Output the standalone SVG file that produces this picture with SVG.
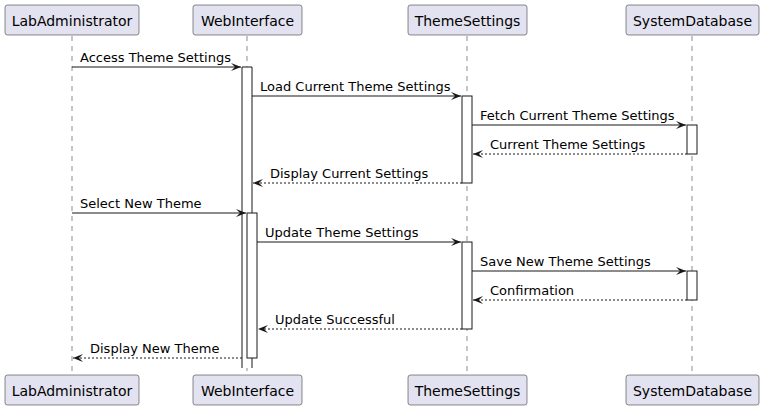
<svg xmlns="http://www.w3.org/2000/svg" width="764" height="411" viewBox="0 0 764 411">
<defs>
<marker id="ah" markerWidth="12" markerHeight="10" refX="10" refY="4" orient="auto" markerUnits="userSpaceOnUse" overflow="visible">
<path d="M0,0 L10,4 L0,8 L4,4 Z" fill="#181818"/>
</marker>
</defs>
<style>
.p rect{fill:#E2E2F0;stroke:#181818;stroke-width:0.5}
.p text{font-family:"DejaVu Sans",sans-serif;font-size:14px;fill:#000;text-anchor:middle}
.life{stroke:#181818;stroke-width:0.5;stroke-dasharray:5,5}
.act{fill:#fff;stroke:#181818;stroke-width:1}
.m{stroke:#181818;stroke-width:1;fill:none;marker-end:url(#ah)}
.r{stroke:#181818;stroke-width:1;fill:none;stroke-dasharray:2,2;marker-end:url(#ah)}
.lbl{font-family:"DejaVu Sans",sans-serif;font-size:13px;fill:#000}
</style>
<g id="lifelines">
<line class="life" x1="72" y1="36" x2="72" y2="375"/>
<line class="life" x1="247" y1="36" x2="247" y2="375"/>
<line class="life" x1="467" y1="36" x2="467" y2="375"/>
<line class="life" x1="692" y1="36" x2="692" y2="375"/>
</g>
<g id="activations">
<rect x="242" y="67" width="10" height="301" fill="#fff" stroke="none"/>
<path d="M242,368 L242,67 L252,67 L252,368" fill="none" stroke="#181818" stroke-width="1"/>
<rect class="act" x="247" y="213" width="10" height="145"/>
<rect class="act" x="462" y="96" width="10" height="87"/>
<rect class="act" x="687" y="125" width="10" height="29"/>
<rect class="act" x="462" y="242" width="10" height="87"/>
<rect class="act" x="687" y="271" width="10" height="29"/>
</g>
<g id="LabAdministrator" class="p">
<rect x="5" y="5" width="134" height="30" rx="2.5"/>
<text x="72" y="25.5">LabAdministrator</text>
<rect x="5" y="375" width="134" height="30" rx="2.5"/>
<text x="72" y="395.5">LabAdministrator</text>
</g>
<g id="WebInterface" class="p">
<rect x="193" y="5" width="109" height="30" rx="2.5"/>
<text x="247.5" y="25.5">WebInterface</text>
<rect x="193" y="375" width="109" height="30" rx="2.5"/>
<text x="247.5" y="395.5">WebInterface</text>
</g>
<g id="ThemeSettings" class="p">
<rect x="408" y="5" width="119" height="30" rx="2.5"/>
<text x="467.5" y="25.5">ThemeSettings</text>
<rect x="408" y="375" width="119" height="30" rx="2.5"/>
<text x="467.5" y="395.5">ThemeSettings</text>
</g>
<g id="SystemDatabase" class="p">
<rect x="626" y="5" width="133" height="30" rx="2.5"/>
<text x="692.5" y="25.5">SystemDatabase</text>
<rect x="626" y="375" width="133" height="30" rx="2.5"/>
<text x="692.5" y="395.5">SystemDatabase</text>
</g>
<g id="connectors">
<line class="m" x1="72" y1="67" x2="241" y2="67"/>
<text class="lbl" x="80" y="62">Access Theme Settings</text>
<line class="m" x1="252" y1="96" x2="461" y2="96"/>
<text class="lbl" x="260" y="91">Load Current Theme Settings</text>
<line class="m" x1="472" y1="125" x2="686" y2="125"/>
<text class="lbl" x="480" y="120">Fetch Current Theme Settings</text>
<line class="r" x1="687" y1="154" x2="473" y2="154"/>
<text class="lbl" x="490" y="149">Current Theme Settings</text>
<line class="r" x1="462" y1="183" x2="253" y2="183"/>
<text class="lbl" x="270" y="178">Display Current Settings</text>
<line class="m" x1="72" y1="213" x2="246" y2="213"/>
<text class="lbl" x="80" y="208">Select New Theme</text>
<line class="m" x1="257" y1="242" x2="461" y2="242"/>
<text class="lbl" x="265" y="237">Update Theme Settings</text>
<line class="m" x1="472" y1="271" x2="686" y2="271"/>
<text class="lbl" x="480" y="266">Save New Theme Settings</text>
<line class="r" x1="687" y1="300" x2="473" y2="300"/>
<text class="lbl" x="490" y="295">Confirmation</text>
<line class="r" x1="462" y1="329" x2="258" y2="329"/>
<text class="lbl" x="275" y="324">Update Successful</text>
<line class="r" x1="242" y1="358" x2="73" y2="358"/>
<text class="lbl" x="90" y="353">Display New Theme</text>
</g>
</svg>
